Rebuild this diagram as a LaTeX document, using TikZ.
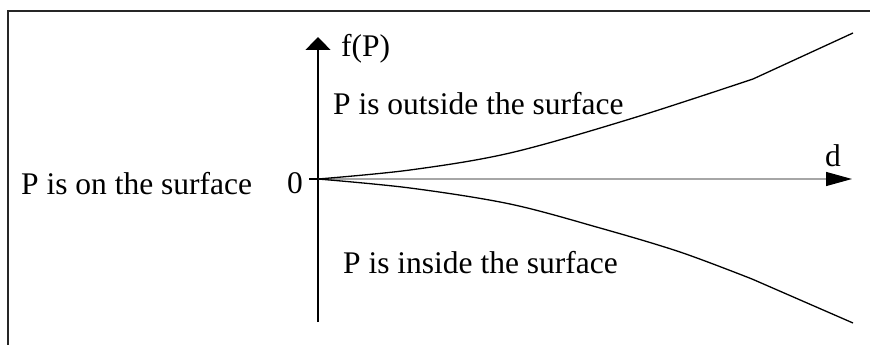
\documentclass[tikz,border=0pt]{standalone}
\usepackage{fontspec}
\setmainfont{Liberation Serif}
\usepackage{tikz}
\usetikzlibrary{arrows.meta, positioning}

\begin{document}
\begin{tikzpicture}[
        x=1pt, y=-1pt,
        lbl/.style={anchor=base west, inner sep=0pt, font=\fontsize{31.5}{36}\selectfont},
        frame/.style={line width=1.5pt, black!85},
        axis/.style={line width=1.2pt},
        curve/.style={line width=1.3pt, line join=round},
        uparr/.style={axis, -{Triangle[length=13pt, width=25pt]}},
        rightarr/.style={line width=1.2pt, gray!70, -{Triangle[length=26pt, width=14pt, fill=black, color=black]}}
    ]
        \useasboundingbox (0,0) rectangle (870,345);
        % -- frame (open at right and bottom) --
        \draw[frame] (870,11) -- (8,11) -- (8,345);

        % -- axes --
        \coordinate (origin) at (318,179);
        \coordinate (ytop)   at (318,37);
        \coordinate (ybot)   at (318,322);
        \coordinate (xtick)  at (309,179);
        \coordinate (xend)   at (852,179);
        \draw[uparr] (ybot) -- (ytop);
        \draw[rightarr] (origin) -- (xend);
        \draw[axis] (xtick) -- (origin);

        % -- labels --
        \node[lbl] (fp)      at (341,57)  {f(P)};
        \node[lbl] (outside) at (333,114) {P is outside the surface};
        \node[lbl] (on)      at (21,194)  {P is on the surface};
        \node[lbl] (zero)    at (287,193) {0};
        \node[lbl] (dlbl)    at (825,166) {d};
        \node[lbl] (inside)  at (343,273) {P is inside the surface};

        % -- f(P) curves --
        \draw[curve] plot[smooth, tension=0.55] coordinates {(origin) (410,170) (510,153) (630,119) (753,79)}
            -- (853,33);
        \draw[curve] plot[smooth, tension=0.55] coordinates {(origin) (410,188) (510,204) (600,228) (680,252) (752,279)}
            -- (853,323);
    \end{tikzpicture}
\end{document}
